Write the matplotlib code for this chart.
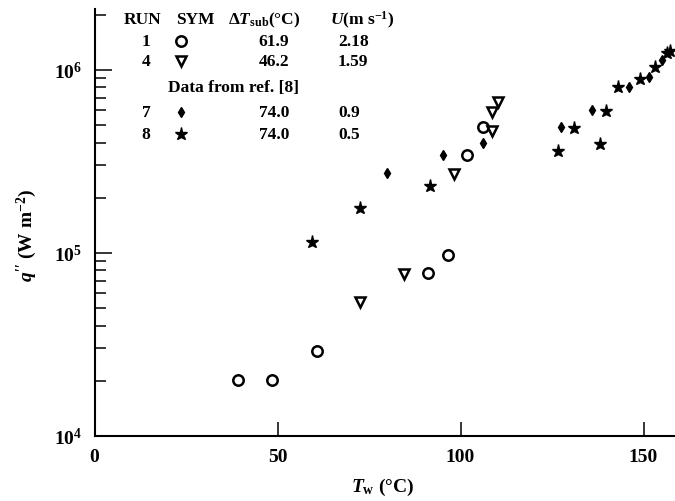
import matplotlib
matplotlib.use("Agg")
import matplotlib.pyplot as plt

plt.rcParams['font.family'] = ['Liberation Serif', 'DejaVu Serif']
plt.rcParams['font.weight'] = 'bold'
plt.rcParams['mathtext.fontset'] = 'custom'
plt.rcParams['mathtext.rm'] = 'Liberation Serif:bold'
plt.rcParams['mathtext.it'] = 'Liberation Serif:italic:bold'
plt.rcParams['mathtext.bf'] = 'Liberation Serif:bold'

# Run 1 (open circles) and run 4 (open triangles), this work
run1_T = [39.3, 48.4, 60.7, 91.0, 96.5, 101.7, 106.1]
run1_q = [2.02e4, 2.02e4, 2.91e4, 7.74e4, 9.7e4, 3.42e5, 4.89e5]

run4_T = [72.5, 84.6, 98.2, 108.5, 108.5, 110.3]
run4_q = [5.4e4, 7.66e4, 2.69e5, 4.64e5, 5.85e5, 6.64e5]

# Runs 7 and 8, data from ref. [8]
run7_T = [79.8, 95.1, 106.2, 127.5, 135.8, 145.9, 151.6, 155.0]
run7_q = [2.72e5, 3.42e5, 3.96e5, 4.84e5, 6.03e5, 8.07e5, 9.17e5, 1.13e6]

run8_T = [59.3, 72.6, 91.6, 126.7, 131.1, 138.1, 139.8, 143.1, 149.0, 153.1,
          156.3, 157.2]
run8_q = [1.14e5, 1.75e5, 2.32e5, 3.6e5, 4.8e5, 3.93e5, 5.97e5, 8.07e5,
          8.9e5, 1.03e6, 1.24e6, 1.27e6]

x_ticks = [0, 50, 100, 150]
y_ticks = [1e4, 1e5, 1e6]
y_tick_labels = [r'$10^4$', r'$10^5$', r'$10^6$']

W, H = 675, 502
fig = plt.figure(figsize=(W / 100, H / 100), dpi=100)
ax = fig.add_axes([94.5 / W, 1 - 436.7 / H, (W - 94.5) / W, (436.7 - 10) / H])

circ = dict(marker='o', ms=7.5, mfc='white', mec='black', mew=1.8)
tri = dict(marker='v', ms=7.5, mfc='white', mec='black', mew=1.8)
dia = dict(marker='d', ms=5.5, color='black')
star = dict(marker='*', ms=9.5, color='black')

ax.plot(run1_T, run1_q, linestyle='none', **circ)
ax.plot(run4_T, run4_q, linestyle='none', **tri)
ax.plot(run7_T, run7_q, linestyle='none', **dia)
ax.plot(run8_T, run8_q, linestyle='none', **star)

ax.set_yscale('log')
ax.set_xlim(0, 158.6)
ax.set_ylim(1e4, 10 ** (4 + 426.7 / 183))

ax.set_xticks(x_ticks)
ax.set_yticks(y_ticks, labels=y_tick_labels)
ax.tick_params(axis='both', which='both', direction='in', labelsize=14,
               pad=9, width=1.1)
ax.tick_params(axis='x', length=10)
ax.tick_params(axis='y', which='major', length=12.5)
ax.tick_params(axis='y', which='minor', length=8)

for side in ['top', 'right']:
    ax.spines[side].set_visible(False)
for side in ['left', 'bottom']:
    ax.spines[side].set_linewidth(1.5)

fig.text(383 / W, 1 - 487 / H, r'$T_{\rm w}$ (°C)', ha='center', va='center',
         fontsize=14)
fig.text(27 / W, 1 - 235 / H, r"$q''$ (W m$^{-2}$)", ha='center',
         va='center', rotation=90, fontsize=14)

# table-style legend
fs = 12.5
def ftext(px, py, s, ha='center'):
    fig.text(px / W, 1 - py / H, s, ha=ha, va='center', fontsize=fs)

ftext(142.5, 20, 'RUN')
ftext(195, 20, 'SYM')
ftext(228, 20, r'$\Delta T_{\rm sub}$(°C)', ha='left')
ftext(330, 20, r'$U$(m s$^{-1}$)', ha='left')

rows = [('1', '61.9', '2.18', 41.7), ('4', '46.2', '1.59', 61.7),
        ('7', '74.0', '0.9', 113), ('8', '74.0', '0.5', 135)]
for run, dt, u, py in rows:
    ftext(146, py, run)
    ftext(274, py, dt)
    ftext(338, py, u, ha='left')
ftext(234, 88.3, 'Data from ref. [8]')

for (run, dt, u, py), st in zip(rows, [circ, tri, dia, star]):
    fig.add_artist(plt.Line2D([181 / W], [1 - py / H], linestyle='none',
                              transform=fig.transFigure, **st))

fig.savefig('out.png', dpi=100)
